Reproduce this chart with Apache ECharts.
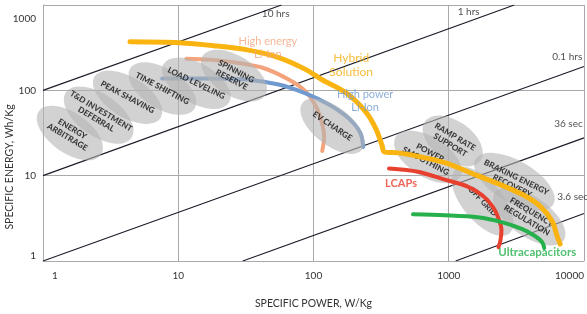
<!DOCTYPE html>
<html>
<head>
<meta charset="utf-8">
<script src="https://cdn.jsdelivr.net/npm/echarts@6/dist/echarts.min.js"></script>
<style>
	html, body { margin: 0; padding: 0; background: #fff; }
	#chart { width: 587px; height: 314px; }
</style>
</head>
<body>
<div id="chart"></div>
<script>
// specific power (W/Kg), specific energy (Wh/Kg)
var hybridCurve = [[4.4, 371], [10.2, 362], [18.4, 334], [31.6, 300], [55.3, 242], [87.3, 176], [115, 134],
	[172, 94.8], [241, 57], [290, 35.2], [322, 22.3], [333, 19], [422, 18.5], [526, 17.5], [935, 14.2],
	[1633, 10], [2412, 7.86], [3622, 5.85], [4748, 4.36], [5820, 2.92], [6330, 1.95], [6660, 1.58]];
var highEnergyCurve = [[11.5, 235], [16.9, 229], [23.7, 217], [41.5, 185], [65.5, 134], [87.3, 97.3],
	[105, 63.4], [116, 40.2], [120, 28.4], [116, 19.5]];
var highPowerCurve = [[7.6, 138], [14.3, 138], [31.6, 134], [55.3, 117], [87.3, 92.3], [129, 68.7],
	[181, 47.3], [222, 31.6], [233, 21.7]];
var lcapCurve = [[362, 12.1], [592, 11.1], [935, 8.98], [1380, 7.45], [1778, 5.85], [2108, 4.36],
	[2333, 3.16], [2453, 2.29], [2412, 1.75], [2333, 1.45]];
var ultracapCurve = [[544, 3.52], [935, 3.43], [1633, 3.25], [2495, 2.84], [3499, 2.36], [4365, 1.95],
	[4909, 1.66], [5082, 1.42]];

var curveNames = ['High energy\nLi-Ion', 'Hybrid\nSolution', 'High power\nLi-Ion', 'LCAPs', 'Ultracapacitors'];
var curveLabelAt = [[46, 316], [190, 195], [241, 74.5], [444, 8.07], [4510, 1.27]];

var durationNames = ['10 hrs', '1 hrs', '0.1 hrs', '36 sec', '3.6 sec'];
var durationLines = [
	[[1, 100], [58, 1000]],
	[[1, 10], [3050, 1000]],
	[[1, 1], [10000, 190]],
	[[30, 1], [10000, 27.7]],
	[[1125, 1], [10000, 3.6]]
];
var durationLabelAt = [[41.5, 786], [1165, 829], [5820, 248], [6020, 40.3], [6330, 5.7]];

var appNames = ['ENERGY\nARBITRAGE', 'T&D INVESTMENT\nDEFERRAL', 'PEAK SHAVING', 'TIME SHIFTING',
	'LOAD LEVELING', 'SPINNING\nRESERVE', 'EV CHARGE', 'RAMP RATE\nSUPPORT', 'POWER\nSMOOTHING',
	'OFF GRID', 'BRAKING ENERGY\nRECOVERY', 'FREQUENCY\nREGULATION'];
var appCenters = [[1.58, 31.6], [2.58, 51.2], [4.22, 83], [7.63, 105], [13.6, 121], [25.8, 149],
	[138, 38.1], [1070, 25.5], [701, 16.6], [1778, 5], [3055, 8.5], [3940, 3.34]];

var xTicks = ['1', '10', '100', '1000', '10000'];
var yTicks = ['1', '10', '100', '1000'];

// ellipse shapes, px
var appSizes = [[76, 40], [80, 42], [78, 40], [76, 40], [76, 40], [74, 40],
	[76, 38], [68, 40], [76, 40], [84, 40], [90, 42], [84, 40]];
var appAngles = [-35, -35, -32, -32, -30, -32, -38, -35, -32, -50, -30, -35];

var COLORS = {
	hybrid: '#F9B412',
	highEnergy: '#F4A47C',
	highPower: '#6F9AD0',
	lcap: '#E8402E',
	ultracap: '#25B04C',
	grid: '#a9a9a9',
	diag: '#1d1d2b',
	ellipse: 'rgba(180,180,180,0.75)',
	text: '#333'
};
var FONT = 'Lato, "Open Sans", sans-serif';

function curveSeries(data, color, width, z) {
	return {
		type: 'line',
		data: data,
		symbol: 'none',
		smooth: 0.3,
		silent: true,
		z: z,
		lineStyle: { color: color, width: width, cap: 'round' }
	};
}

function drawChart() {
	var myChart = echarts.init(document.getElementById('chart'));
	var series = [];

	durationLines.forEach(function (pts) {
		series.push({
			type: 'line',
			data: pts,
			symbol: 'none',
			silent: true,
			z: 1,
			lineStyle: { color: COLORS.diag, width: 1.2 }
		});
	});

	// Li-Ion curves sit under the grey application ellipses
	series.push(curveSeries(highEnergyCurve, COLORS.highEnergy, 4, 2));
	series.push(curveSeries(highPowerCurve, COLORS.highPower, 4, 2));

	series.push({
		type: 'scatter',
		z: 3,
		silent: true,
		itemStyle: { color: COLORS.ellipse },
		label: {
			show: true,
			position: 'inside',
			formatter: function (p) { return p.name; },
			fontFamily: FONT,
			fontSize: 8.2,
			fontWeight: 900,
			lineHeight: 9.5,
			color: '#111'
		},
		data: appCenters.map(function (c, i) {
			return {
				name: appNames[i],
				value: c,
				symbol: 'circle',
				symbolSize: appSizes[i],
				symbolRotate: appAngles[i],
				label: { rotate: appAngles[i] + 4 }
			};
		})
	});

	series.push(curveSeries(lcapCurve, COLORS.lcap, 4, 4));
	series.push(curveSeries(ultracapCurve, COLORS.ultracap, 4, 4));
	series.push(curveSeries(hybridCurve, COLORS.hybrid, 5, 4));

	var curveColors = [COLORS.highEnergy, '#F5AE0C', COLORS.highPower, COLORS.lcap, COLORS.ultracap];
	var curveSizes = [11, 12, 11, 11, 11.5];
	var curveWeights = ['normal', 'normal', 'normal', 'bold', 'bold'];
	series.push({
		type: 'scatter',
		z: 5,
		silent: true,
		symbolSize: 0,
		data: curveLabelAt.map(function (c, i) {
			return {
				name: curveNames[i],
				value: c,
				label: {
					show: true,
					position: 'inside',
					formatter: '{b}',
					fontFamily: FONT,
					fontSize: curveSizes[i],
					fontWeight: curveWeights[i],
					lineHeight: curveSizes[i] + 2,
					color: curveColors[i]
				}
			};
		})
	});

	series.push({
		type: 'scatter',
		z: 5,
		silent: true,
		symbolSize: 0,
		label: {
			show: true,
			position: 'inside',
			align: 'left',
			formatter: '{b}',
			fontFamily: FONT,
			fontSize: 10,
			color: '#222'
		},
		data: durationLabelAt.map(function (c, i) {
			return { name: durationNames[i], value: c };
		})
	});

	var option = {
		animation: false,
		grid: { left: 43, right: 0, top: 5, bottom: 51 },
		xAxis: {
			type: 'log',
			logBase: 10,
			min: 1,
			max: 10000,
			name: 'SPECIFIC POWER, W/Kg',
			nameLocation: 'middle',
			nameGap: 37,
			nameTextStyle: { fontFamily: FONT, fontSize: 10.5, color: COLORS.text },
			axisLine: { show: true, lineStyle: { color: COLORS.grid } },
			axisTick: { show: false },
			splitLine: { show: true, lineStyle: { color: COLORS.grid, width: 1 } },
			axisLabel: {
				fontFamily: FONT, fontSize: 10, color: COLORS.text, margin: 10,
				alignMinLabel: 'left', alignMaxLabel: 'right',
				formatter: function (v) {
					var i = Math.round(Math.log10(v));
					return i === 0 ? '{first|' + xTicks[i] + '}' : xTicks[i];
				},
				rich: { first: { padding: [0, 0, 0, 9] } }
			}
		},
		yAxis: {
			type: 'log',
			logBase: 10,
			min: 1,
			max: 1000,
			axisLine: { show: true, lineStyle: { color: COLORS.grid } },
			axisTick: { show: false },
			splitLine: { show: true, lineStyle: { color: COLORS.grid, width: 1 } },
			axisLabel: {
				fontFamily: FONT, fontSize: 10, color: COLORS.text, margin: 7,
				verticalAlignMinLabel: 'bottom', verticalAlignMaxLabel: 'top',
				formatter: function (v) {
					var i = Math.round(Math.log10(v));
					return i === 3 ? '{top|' + yTicks[i] + '}' : yTicks[i];
				},
				rich: { top: { padding: [9, 0, 0, 0] } }
			}
		},
		graphic: [{
			type: 'text',
			x: 10,
			y: 167,
			rotation: Math.PI / 2,
			style: {
				text: 'SPECIFIC ENERGY, Wh/Kg',
				fontFamily: FONT,
				fontSize: 10.5,
				fill: COLORS.text,
				align: 'center',
				verticalAlign: 'middle'
			}
		}],
		series: series
	};

	myChart.setOption(option);
}

drawChart();
</script>
</body>
</html>
